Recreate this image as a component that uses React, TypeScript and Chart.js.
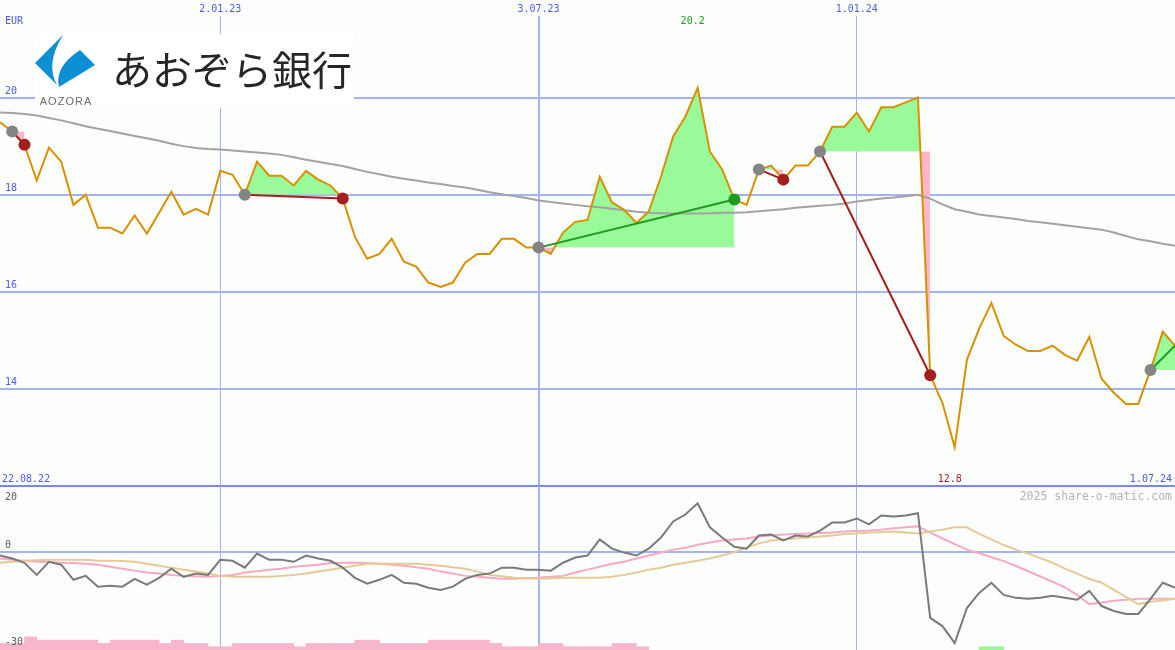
import React, { useEffect, useRef } from 'react';
import { Chart, registerables } from 'chart.js';

Chart.register(...registerables);

// ---------- data ----------
// weekly closes (EUR), first point 29.08.22, last 1.07.24
const price = [
  19.49, 19.30, 19.03, 18.29, 18.97, 18.68, 17.79, 18.00, 17.32, 17.32,
  17.20, 17.57, 17.20, 17.63, 18.06, 17.59, 17.71, 17.59, 18.49, 18.41,
  18.00, 18.68, 18.39, 18.39, 18.19, 18.49, 18.31, 18.19, 17.92, 17.13,
  16.68, 16.78, 17.09, 16.62, 16.52, 16.19, 16.10, 16.19, 16.60, 16.78,
  16.78, 17.09, 17.09, 16.91, 16.91, 16.78, 17.22, 17.44, 17.48, 18.37,
  17.84, 17.69, 17.42, 17.65, 18.37, 19.20, 19.61, 20.20, 18.89, 18.52,
  17.90, 17.79, 18.52, 18.60, 18.31, 18.60, 18.60, 18.89, 19.40, 19.40,
  19.69, 19.30, 19.80, 19.80, 19.90, 20.00, 14.28, 13.71, 12.80, 14.60,
  15.24, 15.77, 15.09, 14.91, 14.78, 14.78, 14.89, 14.70, 14.58, 15.07,
  14.21, 13.92, 13.69, 13.69, 14.39, 15.18, 14.89,
];

const movingAvg = [
  19.69, 19.68, 19.66, 19.63, 19.58, 19.53, 19.47, 19.41, 19.36, 19.31,
  19.26, 19.21, 19.16, 19.11, 19.05, 19.00, 18.96, 18.94, 18.93, 18.91,
  18.89, 18.87, 18.85, 18.82, 18.77, 18.72, 18.68, 18.63, 18.59, 18.53,
  18.47, 18.42, 18.37, 18.33, 18.29, 18.25, 18.22, 18.18, 18.15, 18.10,
  18.05, 18.01, 17.97, 17.93, 17.88, 17.85, 17.82, 17.79, 17.76, 17.74,
  17.71, 17.68, 17.65, 17.63, 17.62, 17.61, 17.61, 17.61, 17.62, 17.63,
  17.63, 17.64, 17.66, 17.68, 17.70, 17.73, 17.75, 17.77, 17.79, 17.82,
  17.86, 17.89, 17.92, 17.94, 17.97, 18.00, 17.92, 17.80, 17.70, 17.65,
  17.59, 17.56, 17.53, 17.50, 17.46, 17.43, 17.40, 17.37, 17.34, 17.31,
  17.28, 17.22, 17.15, 17.08, 17.04, 16.99, 16.95,
];

const momentum = [
  -1.2, -2.1, -3.4, -7.1, -3.1, -4.0, -8.6, -7.4, -10.7, -10.4,
  -10.7, -8.3, -10.1, -8.0, -5.2, -7.7, -6.7, -7.1, -2.5, -2.8,
  -4.9, -0.6, -2.5, -2.5, -3.1, -1.2, -2.1, -2.8, -4.9, -8.0,
  -9.8, -8.6, -7.1, -9.5, -9.8, -11.0, -11.7, -10.7, -8.3, -7.1,
  -6.7, -4.9, -4.9, -5.5, -5.5, -5.8, -3.4, -1.8, -1.2, 3.7,
  0.9, -0.3, -1.2, 0.9, 4.3, 9.2, 11.3, 14.7, 7.4, 4.3,
  1.5, 0.9, 4.9, 5.2, 3.4, 4.9, 4.6, 6.4, 8.9, 8.9,
  10.1, 8.3, 11.0, 10.7, 11.0, 11.7, -20.2, -22.7, -27.9, -17.2,
  -12.6, -9.5, -13.2, -14.1, -14.4, -14.1, -13.5, -14.1, -14.7, -12.0,
  -16.6, -18.1, -19.0, -19.0, -14.4, -9.5, -11.0,
];

const signalPink = [
  -2.1, -2.5, -2.8, -3.1, -3.2, -3.4, -3.5, -3.7, -4.0, -4.6,
  -5.2, -5.8, -6.4, -6.7, -7.1, -7.4, -7.5, -7.7, -7.4, -7.1,
  -6.4, -6.0, -5.5, -5.2, -4.6, -4.3, -4.0, -3.5, -3.4, -3.4,
  -3.5, -3.7, -4.0, -4.3, -4.8, -5.2, -6.1, -6.7, -7.4, -7.7,
  -8.0, -8.3, -8.3, -8.1, -8.0, -7.7, -7.4, -6.4, -5.5, -4.6,
  -3.7, -3.1, -2.1, -1.2, -0.3, 0.6, 1.2, 2.1, 2.8, 3.4,
  3.7, 4.0, 4.6, 4.9, 5.2, 5.4, 5.5, 5.7, 5.8, 6.1,
  6.3, 6.4, 6.7, 7.1, 7.4, 7.7, 5.8, 4.0, 2.3, 0.6,
  -0.5, -1.7, -2.9, -4.4, -6.0, -7.6, -9.2, -10.9, -13.2, -16.0,
  -15.5, -15.0, -14.7, -14.4, -14.4, -14.4, -14.4,
];

const signalTan = [
  -3.4, -3.1, -2.8, -2.6, -2.5, -2.5, -2.5, -2.5, -2.8, -2.8,
  -2.9, -3.1, -3.7, -4.3, -4.9, -5.5, -6.1, -6.7, -7.4, -7.7,
  -7.7, -7.7, -7.7, -7.4, -7.1, -6.7, -6.1, -5.5, -4.9, -4.3,
  -3.7, -3.7, -3.7, -3.7, -3.7, -4.0, -4.3, -4.8, -5.2, -6.1,
  -7.1, -7.5, -8.0, -8.1, -8.3, -8.1, -8.0, -8.0, -8.0, -8.0,
  -7.7, -7.1, -6.4, -5.5, -4.9, -4.0, -3.4, -2.8, -2.1, -1.2,
  -0.2, 1.2, 2.5, 3.4, 3.7, 4.0, 4.3, 4.6, 4.9, 5.4,
  5.5, 5.8, 6.0, 6.1, 5.8, 5.5, 6.1, 6.7, 7.4, 7.4,
  5.4, 3.7, 2.0, 0.6, -0.6, -2.0, -3.4, -5.2, -6.7, -8.3,
  -9.5, -11.7, -13.8, -16.0, -15.3, -14.9, -14.4,
];

// bottom histogram (indicator units above the panel floor)
const pinkBars = [
  2, 2, 4, 3, 3, 3, 3, 3, 2, 3,
  3, 3, 3, 2, 3, 2, 2, 1, 1, 2,
  2, 2, 2, 2, 1, 2, 2, 2, 2, 3,
  3, 2, 2, 2, 2, 3, 3, 3, 3, 3,
  2, 1, 1, 1, 2, 2, 1, 1, 1, 1,
  2, 2, 1, 0, 0, 0, 0, 0, 0, 0,
  0, 0, 0, 0, 0, 0, 0, 0, 0, 0,
  0, 0, 0, 0, 0, 0, 0, 0, 0, 0,
  0, 0, 0, 0, 0, 0, 0, 0, 0, 0,
  0, 0, 0, 0, 0, 0, 0,
];
const greenBars = [
  0, 0, 0, 0, 0, 0, 0, 0, 0, 0,
  0, 0, 0, 0, 0, 0, 0, 0, 0, 0,
  0, 0, 0, 0, 0, 0, 0, 0, 0, 0,
  0, 0, 0, 0, 0, 0, 0, 0, 0, 0,
  0, 0, 0, 0, 0, 0, 0, 0, 0, 0,
  0, 0, 0, 0, 0, 0, 0, 0, 0, 0,
  0, 0, 0, 0, 0, 0, 0, 0, 0, 0,
  0, 0, 0, 0, 0, 0, 0, 0, 0, 0,
  1, 1, 0, 0, 0, 0, 0, 0, 0, 0,
  0, 0, 0, 0, 0, 0, 0,
];

// trades: week index of entry / exit
const tradeEntry = [1, 20, 44, 62, 67, 94];
const tradeExit = [2, 28, 60, 64, 76, 96];
const tradeOpen = [false, false, false, false, false, true];

// axes
const FIRST_DAY = 7; // days after 22.08.22
const WEEK_DAYS = 7;
const X_MIN = 7;
const X_MAX = 679;
const gridDays = [133, 315, 497];
const gridLabels = ['2.01.23', '3.07.23', '1.01.24'];
const gridWidths = [1, 2, 1];
const priceTicks = [12, 14, 16, 18, 20];
const priceTickLabels = ['', '14', '16', '18', '20'];
const PRICE_MIN = 12;
const PRICE_MAX = 21.68;
const indTicks = [20, 0, -30];
const indTickLabels = ['20', '0', '-30'];
const IND_MIN = -30;
const IND_MAX = 20;
const currency = 'EUR';
const startLabel = '22.08.22';
const endLabel = '1.07.24';
const creditLabel = '2025 share-o-matic.com';
const logoLatin = 'AOZORA';
const logoJapanese = 'あおぞら銀行';

// ---------- styles ----------
const BG = '#fcfefc';
const GRID = '#a4b3f2';
const SEP = '#7888f0';
const LABEL_BLUE = '#4a5cf0';
const ORANGE = '#d99000';
const MA_GRAY = '#a2a2a2';
const FILL_GREEN = '#98fa98';
const FILL_PINK = '#ffb6c8';
const WIN = '#1f9a1f';
const LOSS = '#a41e1e';
const ENTRY_GRAY = '#848484';
const MONO = '10px "DejaVu Sans Mono"';

const days = price.map((_, i) => FIRST_DAY + i * WEEK_DAYS);
const asPoints = (arr: number[]) => arr.map((v, i) => ({ x: days[i], y: v }));

function drawLogo(ctx: CanvasRenderingContext2D) {
  ctx.save();
  ctx.fillStyle = '#ffffff';
  ctx.fillRect(35, 34, 319, 74);
  ctx.fillStyle = '#0b8fd5';
  // left crescent
  ctx.beginPath();
  ctx.moveTo(63, 35);
  ctx.lineTo(35, 63);
  ctx.lineTo(57, 85);
  ctx.quadraticCurveTo(45, 64, 63, 35);
  ctx.closePath();
  ctx.fill();
  // right piece
  ctx.beginPath();
  ctx.moveTo(80, 50);
  ctx.lineTo(95, 65);
  ctx.lineTo(59, 87);
  ctx.quadraticCurveTo(54, 67, 80, 50);
  ctx.closePath();
  ctx.fill();
  ctx.fillStyle = '#6b6b6b';
  ctx.font = '11px "Liberation Sans"';
  ctx.textAlign = 'center';
  ctx.textBaseline = 'middle';
  (ctx as any).letterSpacing = '1px';
  ctx.fillText(logoLatin, 66, 102);
  (ctx as any).letterSpacing = '0px';
  ctx.fillStyle = '#262626';
  ctx.font = '40px "Noto Sans CJK JP"';
  ctx.textAlign = 'left';
  ctx.fillText(logoJapanese, 112, 70);
  ctx.restore();
}

const xScale = () => ({
  type: 'linear',
  min: X_MIN,
  max: X_MAX,
  offset: false,
  afterBuildTicks: (s: any) => {
    s.ticks = gridDays.map((v) => ({ value: v }));
  },
  ticks: { display: false },
  grid: {
    color: GRID,
    offset: false,
    lineWidth: (c: any) => gridWidths[c.index] ?? 1,
    drawTicks: false,
  },
  border: { display: false },
});

const mainDecor = {
  id: 'mainDecor',
  beforeDatasetsDraw(chart: any) {
    drawLogo(chart.ctx);
  },
  afterDraw(chart: any) {
    const { ctx, chartArea, scales } = chart;
    const xs = scales.x;
    const ys = scales.y;
    ctx.save();
    ctx.font = MONO;
    ctx.textBaseline = 'middle';
    ctx.fillStyle = LABEL_BLUE;
    ctx.textAlign = 'center';
    gridDays.forEach((d, i) => ctx.fillText(gridLabels[i], xs.getPixelForValue(d), chartArea.top - 7));
    ctx.textAlign = 'left';
    priceTicks.forEach((v, i) => {
      if (priceTickLabels[i]) ctx.fillText(priceTickLabels[i], chartArea.left + 5, ys.getPixelForValue(v) - 6);
    });
    ctx.fillText(currency, chartArea.left + 5, chartArea.top + 5);
    ctx.fillText(startLabel, chartArea.left + 2, chartArea.bottom - 7);
    ctx.textAlign = 'right';
    ctx.fillText(endLabel, chartArea.right - 3, chartArea.bottom - 7);
    // extreme values
    let hi = 0;
    let lo = 0;
    price.forEach((v, i) => {
      if (v > price[hi]) hi = i;
      if (v < price[lo]) lo = i;
    });
    ctx.textAlign = 'center';
    ctx.fillStyle = WIN;
    ctx.fillText(price[hi].toFixed(1), xs.getPixelForValue(days[hi]) - 5, chartArea.top + 5);
    ctx.fillStyle = LOSS;
    ctx.fillText(price[lo].toFixed(1), xs.getPixelForValue(days[lo]) - 5, chartArea.bottom - 7);
    ctx.restore();
  },
};

const indDecor = {
  id: 'indDecor',
  afterDraw(chart: any) {
    const { ctx, chartArea, scales } = chart;
    const ys = scales.y;
    ctx.save();
    ctx.font = MONO;
    ctx.textBaseline = 'middle';
    ctx.fillStyle = '#5a5a5a';
    ctx.textAlign = 'left';
    indTicks.forEach((v, i) => {
      const y = Math.min(Math.max(ys.getPixelForValue(v) - 6, chartArea.top + 11), chartArea.bottom - 8);
      ctx.fillText(indTickLabels[i], chartArea.left + 5, y);
    });
    ctx.font = '11.5px "DejaVu Sans Mono"';
    ctx.fillStyle = '#b4b4b4';
    ctx.textAlign = 'right';
    ctx.fillText(creditLabel, chartArea.right - 3, chartArea.top + 11);
    ctx.restore();
  },
};

function mainConfig(): any {
  const fills = tradeEntry.map((e, t) => ({
    type: 'line',
    data: price.slice(e, tradeExit[t] + 1).map((v, j) => ({ x: days[e + j], y: v })),
    borderWidth: 0,
    borderColor: 'rgba(0,0,0,0)',
    pointRadius: 0,
    fill: { target: { value: price[e] }, above: FILL_GREEN, below: FILL_PINK },
    order: 5,
  }));
  const tradeLines = tradeEntry.map((e, t) => {
    const x2 = tradeExit[t];
    const win = price[x2] >= price[e];
    return {
      type: 'line',
      data: [
        { x: days[e], y: price[e] },
        { x: days[x2], y: price[x2] },
      ],
      borderColor: win ? WIN : LOSS,
      borderWidth: 2,
      pointRadius: 0,
      fill: false,
      order: 1,
    };
  });
  const dotData: any[] = [];
  const dotColors: string[] = [];
  tradeEntry.forEach((e, t) => {
    dotData.push({ x: days[e], y: price[e] });
    dotColors.push(ENTRY_GRAY);
    if (!tradeOpen[t]) {
      const x2 = tradeExit[t];
      dotData.push({ x: days[x2], y: price[x2] });
      dotColors.push(price[x2] >= price[e] ? WIN : LOSS);
    }
  });
  return {
    type: 'line',
    data: {
      datasets: [
        {
          type: 'line',
          data: dotData,
          showLine: false,
          pointRadius: 6,
          pointBorderWidth: 0,
          pointBackgroundColor: dotColors,
          pointBorderColor: dotColors,
          order: 0,
        },
        ...tradeLines,
        {
          type: 'line',
          data: asPoints(price),
          borderColor: ORANGE,
          borderWidth: 2,
          pointRadius: 0,
          fill: false,
          order: 2,
        },
        {
          type: 'line',
          data: asPoints(movingAvg),
          borderColor: MA_GRAY,
          borderWidth: 2,
          pointRadius: 0,
          fill: false,
          order: 3,
        },
        ...fills,
      ],
    },
    options: {
      animation: false,
      responsive: false,
      maintainAspectRatio: false,
      events: [],
      layout: { autoPadding: false, padding: { top: 16, bottom: 2, left: 0, right: 0 } },
      plugins: { legend: { display: false }, tooltip: { enabled: false } },
      scales: {
        x: xScale(),
        y: {
          type: 'linear',
          min: PRICE_MIN,
          max: PRICE_MAX,
          afterBuildTicks: (s: any) => {
            s.ticks = priceTicks.map((v) => ({ value: v }));
          },
          ticks: { display: false },
          grid: {
            color: (c: any) => (c.tick && c.tick.value === PRICE_MIN ? SEP : GRID),
            lineWidth: 2,
            drawTicks: false,
          },
          border: { display: false },
        },
      },
    },
    plugins: [mainDecor],
  };
}

function indConfig(): any {
  const barPoints = (arr: number[]) =>
    arr
      .map((v, i) => (v > 0 ? { x: days[i] + WEEK_DAYS / 2, y: [IND_MIN, IND_MIN + v] } : null))
      .filter((p) => p !== null);
  return {
    type: 'line',
    data: {
      datasets: [
        {
          type: 'line',
          data: asPoints(momentum),
          borderColor: '#7a7a7a',
          borderWidth: 2,
          pointRadius: 0,
          order: 1,
        },
        {
          type: 'line',
          data: asPoints(signalTan),
          borderColor: '#e3ca98',
          borderWidth: 2,
          pointRadius: 0,
          order: 2,
        },
        {
          type: 'line',
          data: asPoints(signalPink),
          borderColor: '#f6aac2',
          borderWidth: 2,
          pointRadius: 0,
          order: 3,
        },
        {
          type: 'bar',
          data: barPoints(pinkBars),
          backgroundColor: '#f8b6ca',
          grouped: false,
          categoryPercentage: 1,
          barPercentage: 1,
          order: 5,
        },
        {
          type: 'bar',
          data: barPoints(greenBars),
          backgroundColor: '#98f898',
          grouped: false,
          categoryPercentage: 1,
          barPercentage: 1,
          order: 5,
        },
      ],
    },
    options: {
      animation: false,
      responsive: false,
      maintainAspectRatio: false,
      events: [],
      layout: { autoPadding: false, padding: 0 },
      plugins: { legend: { display: false }, tooltip: { enabled: false } },
      scales: {
        x: xScale(),
        y: {
          type: 'linear',
          min: IND_MIN,
          max: IND_MAX,
          afterBuildTicks: (s: any) => {
            s.ticks = [{ value: 0 }];
          },
          ticks: { display: false },
          grid: { color: GRID, lineWidth: 2, drawTicks: false },
          border: { display: false },
        },
      },
    },
    plugins: [indDecor],
  };
}

export default function App() {
  const mainRef = useRef<HTMLCanvasElement>(null);
  const indRef = useRef<HTMLCanvasElement>(null);
  useEffect(() => {
    const main = new Chart(mainRef.current as HTMLCanvasElement, mainConfig());
    const ind = new Chart(indRef.current as HTMLCanvasElement, indConfig());
    return () => {
      main.destroy();
      ind.destroy();
    };
  }, []);
  return (
    <div
      style={{
        position: 'fixed',
        left: 0,
        top: 0,
        width: 1175,
        height: 650,
        background: BG,
        overflow: 'hidden',
      }}
    >
      <canvas
        ref={mainRef}
        width={1175}
        height={488}
        style={{ position: 'absolute', left: 0, top: 0, width: 1175, height: 488 }}
      />
      <canvas
        ref={indRef}
        width={1175}
        height={164}
        style={{ position: 'absolute', left: 0, top: 486, width: 1175, height: 164 }}
      />
    </div>
  );
}
